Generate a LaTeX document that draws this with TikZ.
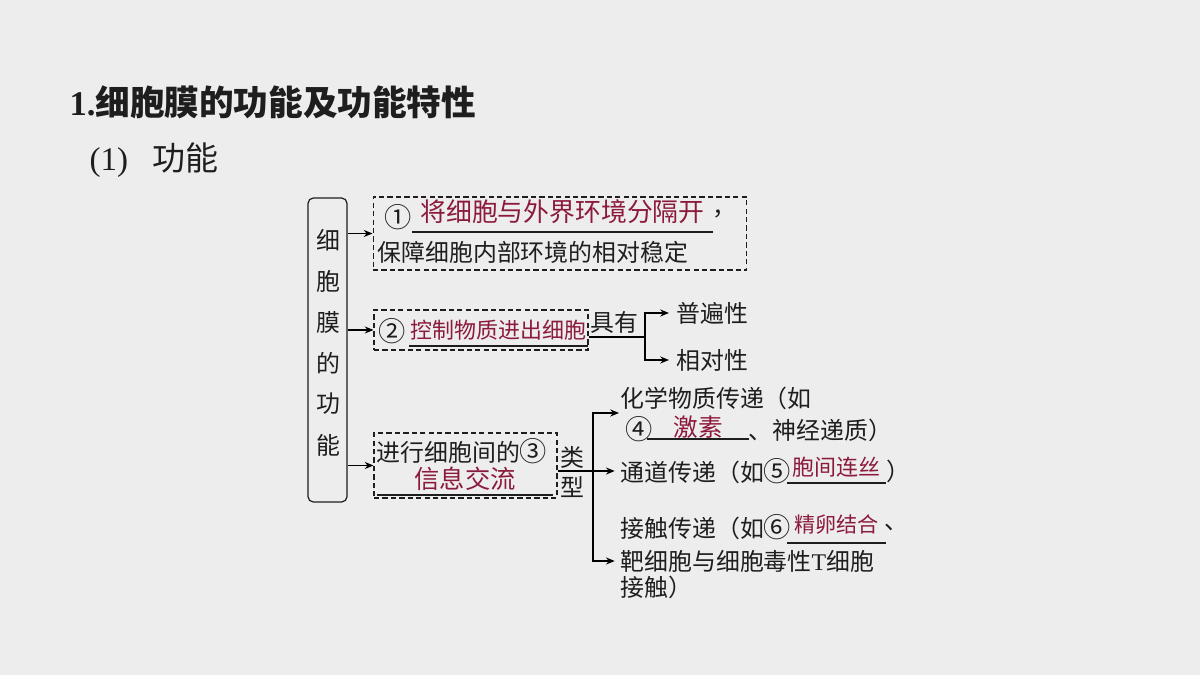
\documentclass[tikz,border=0pt]{standalone}
\usepackage{fontspec}
\usetikzlibrary{arrows.meta}
\setmainfont{Liberation Serif}
\newfontfamily\hei{Noto Sans CJK SC}
\newcommand\qn[1]{{\fontsize{15.5}{16}\selectfont#1}}
\definecolor{bg}{HTML}{EDEDED}
\definecolor{ink}{HTML}{1E1E1E}
\definecolor{ans}{HTML}{8C1A3C}
\tikzset{
  lbox/.style={draw=ink, line width=0.7pt, rounded corners=3pt, inner sep=0pt},
  dbox/.style={draw=ink, line width=0.6pt, dash pattern=on 3pt off 1.8pt, inner sep=0pt},
  txt/.style={anchor=west, inner sep=0pt},
  blank/.style={text=ans, inner sep=0pt}
}
\begin{document}
\begin{tikzpicture}[x=0.02cm, y=-0.02cm, >={Stealth[length=5pt,width=4pt]}, line width=0.6pt, text=ink,
  font=\hei\fontsize{13.6}{16}\selectfont]
\useasboundingbox[fill=bg] (0,0) rectangle (1200,675);
\node[txt, font=\bfseries\fontsize{19.7}{24}\selectfont] (ttl) at (69,102) {1.{\hei 细胞膜的功能及功能特性}};
\node[txt, font=\rmfamily\fontsize{18.8}{22}\selectfont] (sub) at (89,160) {(1)\hspace{0.75em}{\hei 功能}};
% left frame
\node[lbox, minimum width=0.78cm, minimum height=6.08cm] (fn) at (327.5,350) {};
\foreach \c [count=\i] in {细,胞,膜,的,功,能}
  \node (v\i) at (328,199+41*\i) {\c};
% dashed boxes
\node[dbox, minimum width=7.48cm, minimum height=1.46cm] (b1) at (560,233.5) {};
\node[dbox, minimum width=4.28cm, minimum height=0.8cm] (b2) at (481,330) {};
\node[dbox, minimum width=3.66cm, minimum height=1.3cm] (b3) at (465.5,465.5) {};
% answers with their blanks
\foreach \n/\x/\y/\w/\s/\d/\t in {k1/562.5/212/299/14.7/20/将细胞与外界环境分隔开, k2/498.5/330/177/12.5/16/控制物质进出细胞, k3/465/479/174/14.4/16/信息交流, k4/698/427/100/14/12/激素, k5/836.5/467/97/12.5/16/胞间连丝, k6/836.5/525/97/12/18/精卵结合}{
  \node[blank, minimum width=\w*0.02cm, font=\hei\fontsize{\s}{\s}\selectfont] (\n) at (\x,\y) {\t};
  \draw[ink] ([yshift=-\d*0.02cm]\n.west) -- ([yshift=-\d*0.02cm]\n.east);
}
% plain texts
\foreach \n/\x/\y/\t in {c1/384/217/\qn{①}, cm/712/214/，, p1/377/252/保障细胞内部环境的相对稳定, c2/378/331/\qn{②}, u1/676/313/普遍性, u2/676/360/相对性, m1/376/451/进行细胞间的\qn{③}, t1/620/398/化学物质传递（如, c4/625/429/\qn{④}, n4/748/430/、神经递质）, t2/620/471/通道传递（如\qn{⑤}, q5/886/471/）, t3/620/527/接触传递（如\qn{⑥}, q6/884/527/、, t4/620/561/靶细胞与细胞毒性{\rmfamily T}细胞, t5/620/587/接触）}
  \node[txt] (\n) at (\x,\y) {\t};
\node (jy) at (614,322) {具有};
\node (lx) at (572,457) {类};
\node (xg) at (572,487) {型};
\path (645,337) coordinate (j1) (593,471) coordinate (j2) (619,413) coordinate (a1);
% connectors
\foreach \b in {b1,b2,b3}
  \draw[->] (fn.east|-\b.west) -- (\b.west);
\draw (b2.east|-j1) -- (j1);
\draw[->, shorten >=4pt] (j1) |- (u1.west);
\draw[->, shorten >=4pt] (j1) |- (u2.west);
\draw[->, shorten >=3pt] (b3.east|-t2.west) -- (t2.west);
\draw[->] (j2) |- (a1);
\draw[->, shorten >=3pt] (j2) |- (t4.west);
\end{tikzpicture}
\end{document}
